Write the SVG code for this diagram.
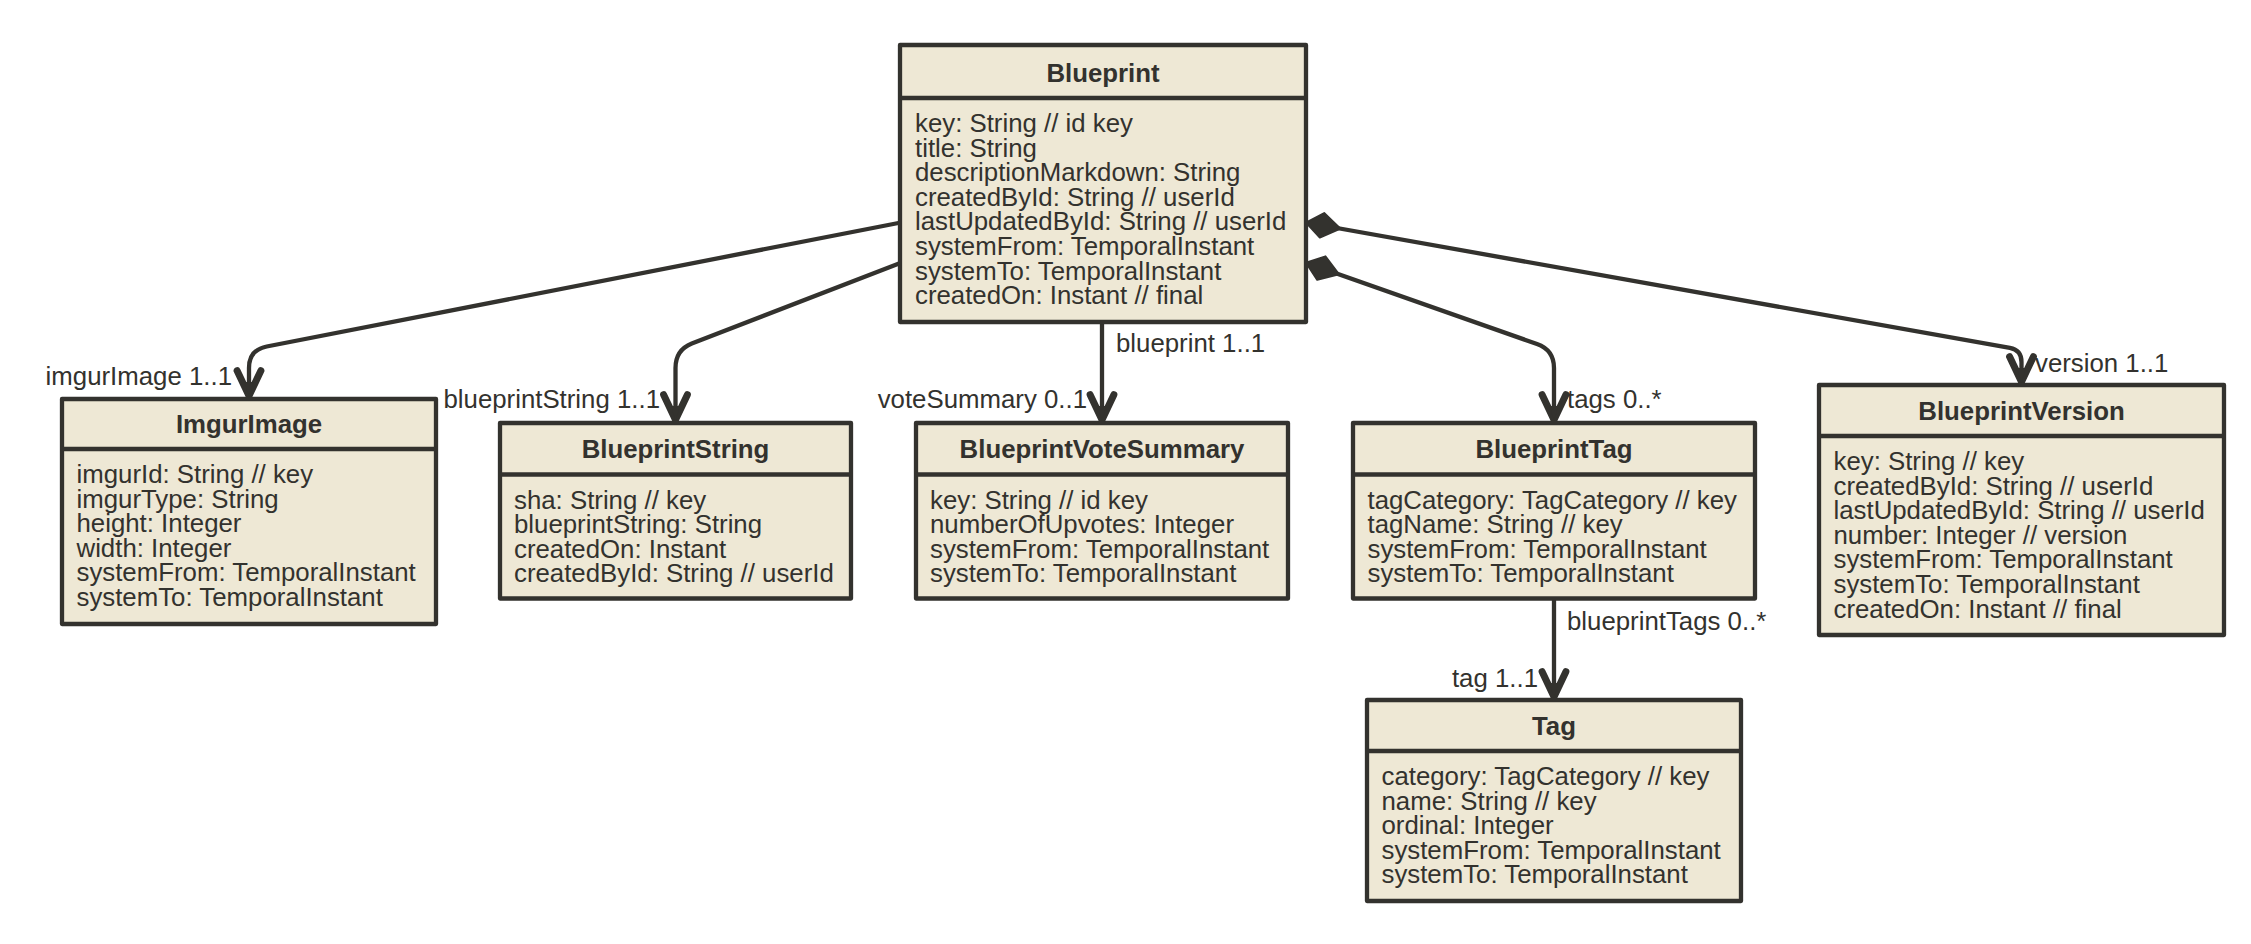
<svg xmlns="http://www.w3.org/2000/svg" width="2251" height="944" viewBox="0 0 2251 944">
<style>
.box{fill:#eee8d5;stroke:#33322e;stroke-width:4.3;stroke-linejoin:round}
.div{stroke:#33322e;stroke-width:4.3}
text{font-family:"Liberation Sans",Helvetica,Arial,sans-serif;font-size:25.8px;fill:#33322e}
.title{font-weight:bold;text-anchor:middle}
.edge{fill:none;stroke:#33322e;stroke-width:4.3;stroke-linejoin:round;stroke-linecap:round}
.end{text-anchor:end}
</style>
<defs>
<marker id="arrow" markerUnits="userSpaceOnUse" markerWidth="40" markerHeight="40" refX="0" refY="0" orient="auto" viewBox="-30 -15 32 30" overflow="visible">
<path d="M-21,-9.5 L-1,0 L-21,9.5" fill="none" stroke="#33322e" stroke-width="5.6" stroke-linejoin="miter" stroke-linecap="round" stroke-miterlimit="10"/>
<path d="M-12,-3.5 L0,0 L-12,3.5 Z" fill="#33322e"/>
</marker>
<marker id="diamond" markerUnits="userSpaceOnUse" markerWidth="40" markerHeight="40" refX="0" refY="0" orient="auto" viewBox="-2 -12 32 24" overflow="visible">
<path d="M0,0 L13,-10 L28,0 L13,10 Z" fill="#33322e" stroke="#33322e" stroke-width="1.5" stroke-linejoin="round"/>
</marker>
</defs>
<rect width="2251" height="944" fill="#ffffff"/>
<g id="connectors">
<path class="edge" d="M901,222.5 L266.7,346.5 Q249,350 249,368 L249,397" marker-end="url(#arrow)"/>
<path class="edge" d="M901,262.7 L691.8,343.5 Q675.5,350 675.5,368 L675.5,421" marker-end="url(#arrow)"/>
<path class="edge" d="M1102,322 L1102,421" marker-end="url(#arrow)"/>
<path class="edge" d="M1306,262.7 L1537,344 Q1554,350 1554,368 L1554,421" marker-end="url(#arrow)"/>
<path class="edge" d="M1306,222.5 L2009.9,347.9 Q2021.5,350 2021.5,362 L2021.5,383" marker-start="url(#diamond)" marker-end="url(#arrow)"/>
<path class="edge" d="M1306,262.7 L1320,267.6" marker-start="url(#diamond)"/>
<path class="edge" d="M1554,598.5 L1554,698" marker-end="url(#arrow)"/>
<text x="232" y="385" class="end">imgurImage 1..1</text>
<text x="660" y="408" class="end">blueprintString 1..1</text>
<text x="1087" y="408" class="end">voteSummary 0..1</text>
<text x="1116" y="352">blueprint 1..1</text>
<text x="1567" y="408">tags 0..*</text>
<text x="2035" y="372">version 1..1</text>
<text x="1567" y="630">blueprintTags 0..*</text>
<text x="1538" y="687" class="end">tag 1..1</text>
</g>
<g id="Blueprint">
<rect class="box" x="900" y="45" width="406" height="277"/>
<line class="div" x1="900" y1="98" x2="1306" y2="98"/>
<text x="1103" y="82" class="title">Blueprint</text>
<text x="915" y="132">key: String // id key</text>
<text x="915" y="156.6">title: String</text>
<text x="915" y="181.2">descriptionMarkdown: String</text>
<text x="915" y="205.8">createdById: String // userId</text>
<text x="915" y="230.4">lastUpdatedById: String // userId</text>
<text x="915" y="255">systemFrom: TemporalInstant</text>
<text x="915" y="279.6">systemTo: TemporalInstant</text>
<text x="915" y="304.2">createdOn: Instant // final</text>
</g>
<g id="ImgurImage">
<rect class="box" x="62" y="399" width="374" height="225"/>
<line class="div" x1="62" y1="449" x2="436" y2="449"/>
<text x="249" y="433" class="title">ImgurImage</text>
<text x="76.5" y="483">imgurId: String // key</text>
<text x="76.5" y="507.6">imgurType: String</text>
<text x="76.5" y="532.2">height: Integer</text>
<text x="76.5" y="556.8">width: Integer</text>
<text x="76.5" y="581.4">systemFrom: TemporalInstant</text>
<text x="76.5" y="606">systemTo: TemporalInstant</text>
</g>
<g id="BlueprintString">
<rect class="box" x="500" y="423" width="351" height="175.5"/>
<line class="div" x1="500" y1="474.5" x2="851" y2="474.5"/>
<text x="675.5" y="458" class="title">BlueprintString</text>
<text x="514" y="508.5">sha: String // key</text>
<text x="514" y="533.1">blueprintString: String</text>
<text x="514" y="557.7">createdOn: Instant</text>
<text x="514" y="582.3">createdById: String // userId</text>
</g>
<g id="BlueprintVoteSummary">
<rect class="box" x="916" y="423" width="372" height="175.5"/>
<line class="div" x1="916" y1="474.5" x2="1288" y2="474.5"/>
<text x="1102" y="458" class="title">BlueprintVoteSummary</text>
<text x="930" y="508.5">key: String // id key</text>
<text x="930" y="533.1">numberOfUpvotes: Integer</text>
<text x="930" y="557.7">systemFrom: TemporalInstant</text>
<text x="930" y="582.3">systemTo: TemporalInstant</text>
</g>
<g id="BlueprintTag">
<rect class="box" x="1353" y="423" width="402" height="175.5"/>
<line class="div" x1="1353" y1="474.5" x2="1755" y2="474.5"/>
<text x="1554" y="458" class="title">BlueprintTag</text>
<text x="1367.5" y="508.5">tagCategory: TagCategory // key</text>
<text x="1367.5" y="533.1">tagName: String // key</text>
<text x="1367.5" y="557.7">systemFrom: TemporalInstant</text>
<text x="1367.5" y="582.3">systemTo: TemporalInstant</text>
</g>
<g id="BlueprintVersion">
<rect class="box" x="1819" y="385" width="405" height="250"/>
<line class="div" x1="1819" y1="436" x2="2224" y2="436"/>
<text x="2021.5" y="420" class="title">BlueprintVersion</text>
<text x="1833.5" y="470">key: String // key</text>
<text x="1833.5" y="494.6">createdById: String // userId</text>
<text x="1833.5" y="519.2">lastUpdatedById: String // userId</text>
<text x="1833.5" y="543.8">number: Integer // version</text>
<text x="1833.5" y="568.4">systemFrom: TemporalInstant</text>
<text x="1833.5" y="593">systemTo: TemporalInstant</text>
<text x="1833.5" y="617.6">createdOn: Instant // final</text>
</g>
<g id="Tag">
<rect class="box" x="1367" y="700" width="374" height="201"/>
<line class="div" x1="1367" y1="751" x2="1741" y2="751"/>
<text x="1554" y="735" class="title">Tag</text>
<text x="1381.5" y="785">category: TagCategory // key</text>
<text x="1381.5" y="809.6">name: String // key</text>
<text x="1381.5" y="834.2">ordinal: Integer</text>
<text x="1381.5" y="858.8">systemFrom: TemporalInstant</text>
<text x="1381.5" y="883.4">systemTo: TemporalInstant</text>
</g>
</svg>
